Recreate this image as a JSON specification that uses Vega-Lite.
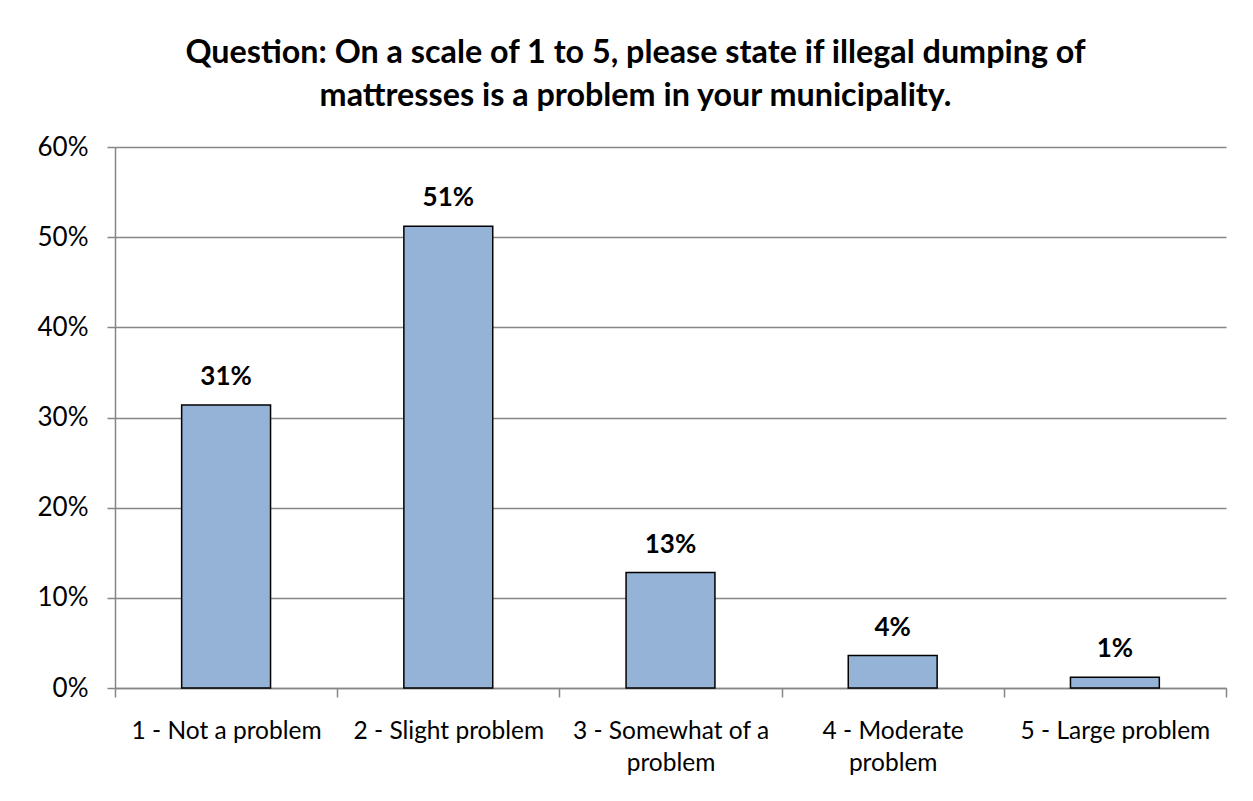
{
  "$schema": "https://vega.github.io/schema/vega-lite/v6.json",
  "autosize": "none",
  "width": 1111,
  "height": 541,
  "padding": {"left": 115, "top": 147, "right": 27, "bottom": 113},
  "background": "white",
  "title": {
    "text": ["Question: On a scale of 1 to 5, please state if illegal dumping of", "mattresses is a problem in your municipality."],
    "font": "Lato",
    "fontSize": 32.3,
    "fontWeight": "bold",
    "color": "#000000",
    "lineHeight": 43,
    "anchor": "middle",
    "dx": -35,
    "offset": 22
  },
  "data": {
    "values": [
      {"rating": "1 - Not a problem", "share": 0.314},
      {"rating": "2 - Slight problem", "share": 0.512},
      {"rating": "3 - Somewhat of a problem", "share": 0.128},
      {"rating": "4 - Moderate problem", "share": 0.036},
      {"rating": "5 - Large problem", "share": 0.012}
    ]
  },
  "encoding": {
    "x": {
      "field": "rating",
      "type": "nominal",
      "sort": null,
      "title": null,
      "scale": {"paddingInner": 0, "paddingOuter": 0},
      "axis": {
        "labelAngle": 0,
        "tickBand": "extent",
        "labelFont": "Lato",
        "labelFontSize": 24.5,
        "labelColor": "#000000",
        "labelPadding": 22,
        "labelLineHeight": 32,
        "labelBaseline": "top",
        "labelLimit": 0,
        "tickSize": 9,
        "tickColor": "#868686",
        "tickWidth": 1.5,
        "domainColor": "#868686",
        "domainWidth": 1.5,
        "labelExpr": "datum.value == '3 - Somewhat of a problem' ? ['3 - Somewhat of a', 'problem'] : datum.value == '4 - Moderate problem' ? ['4 - Moderate', 'problem'] : datum.value"
      }
    },
    "y": {
      "field": "share",
      "type": "quantitative",
      "title": null,
      "scale": {"domain": [0, 0.6], "nice": false},
      "axis": {
        "values": [0, 0.1, 0.2, 0.3, 0.4, 0.5, 0.6],
        "format": ".0%",
        "labelFont": "Lato",
        "labelFontSize": 26,
        "labelColor": "#000000",
        "labelPadding": 19,
        "tickSize": 8,
        "tickColor": "#868686",
        "tickWidth": 1.5,
        "domainColor": "#868686",
        "domainWidth": 1.5,
        "gridColor": "#868686",
        "gridWidth": 1.5
      }
    }
  },
  "layer": [
    {
      "mark": {"type": "bar", "width": {"band": 0.4}, "fill": "#95B3D7", "stroke": "#000000", "strokeWidth": 1.5}
    },
    {
      "mark": {"type": "text", "font": "Lato", "fontSize": 26, "fontWeight": "bold", "color": "#000000", "baseline": "alphabetic", "dy": -20},
      "encoding": {
        "text": {"field": "share", "type": "quantitative", "format": ".0%"}
      }
    }
  ],
  "config": {
    "view": {"stroke": null},
    "axis": {"gridDash": []}
  }
}
